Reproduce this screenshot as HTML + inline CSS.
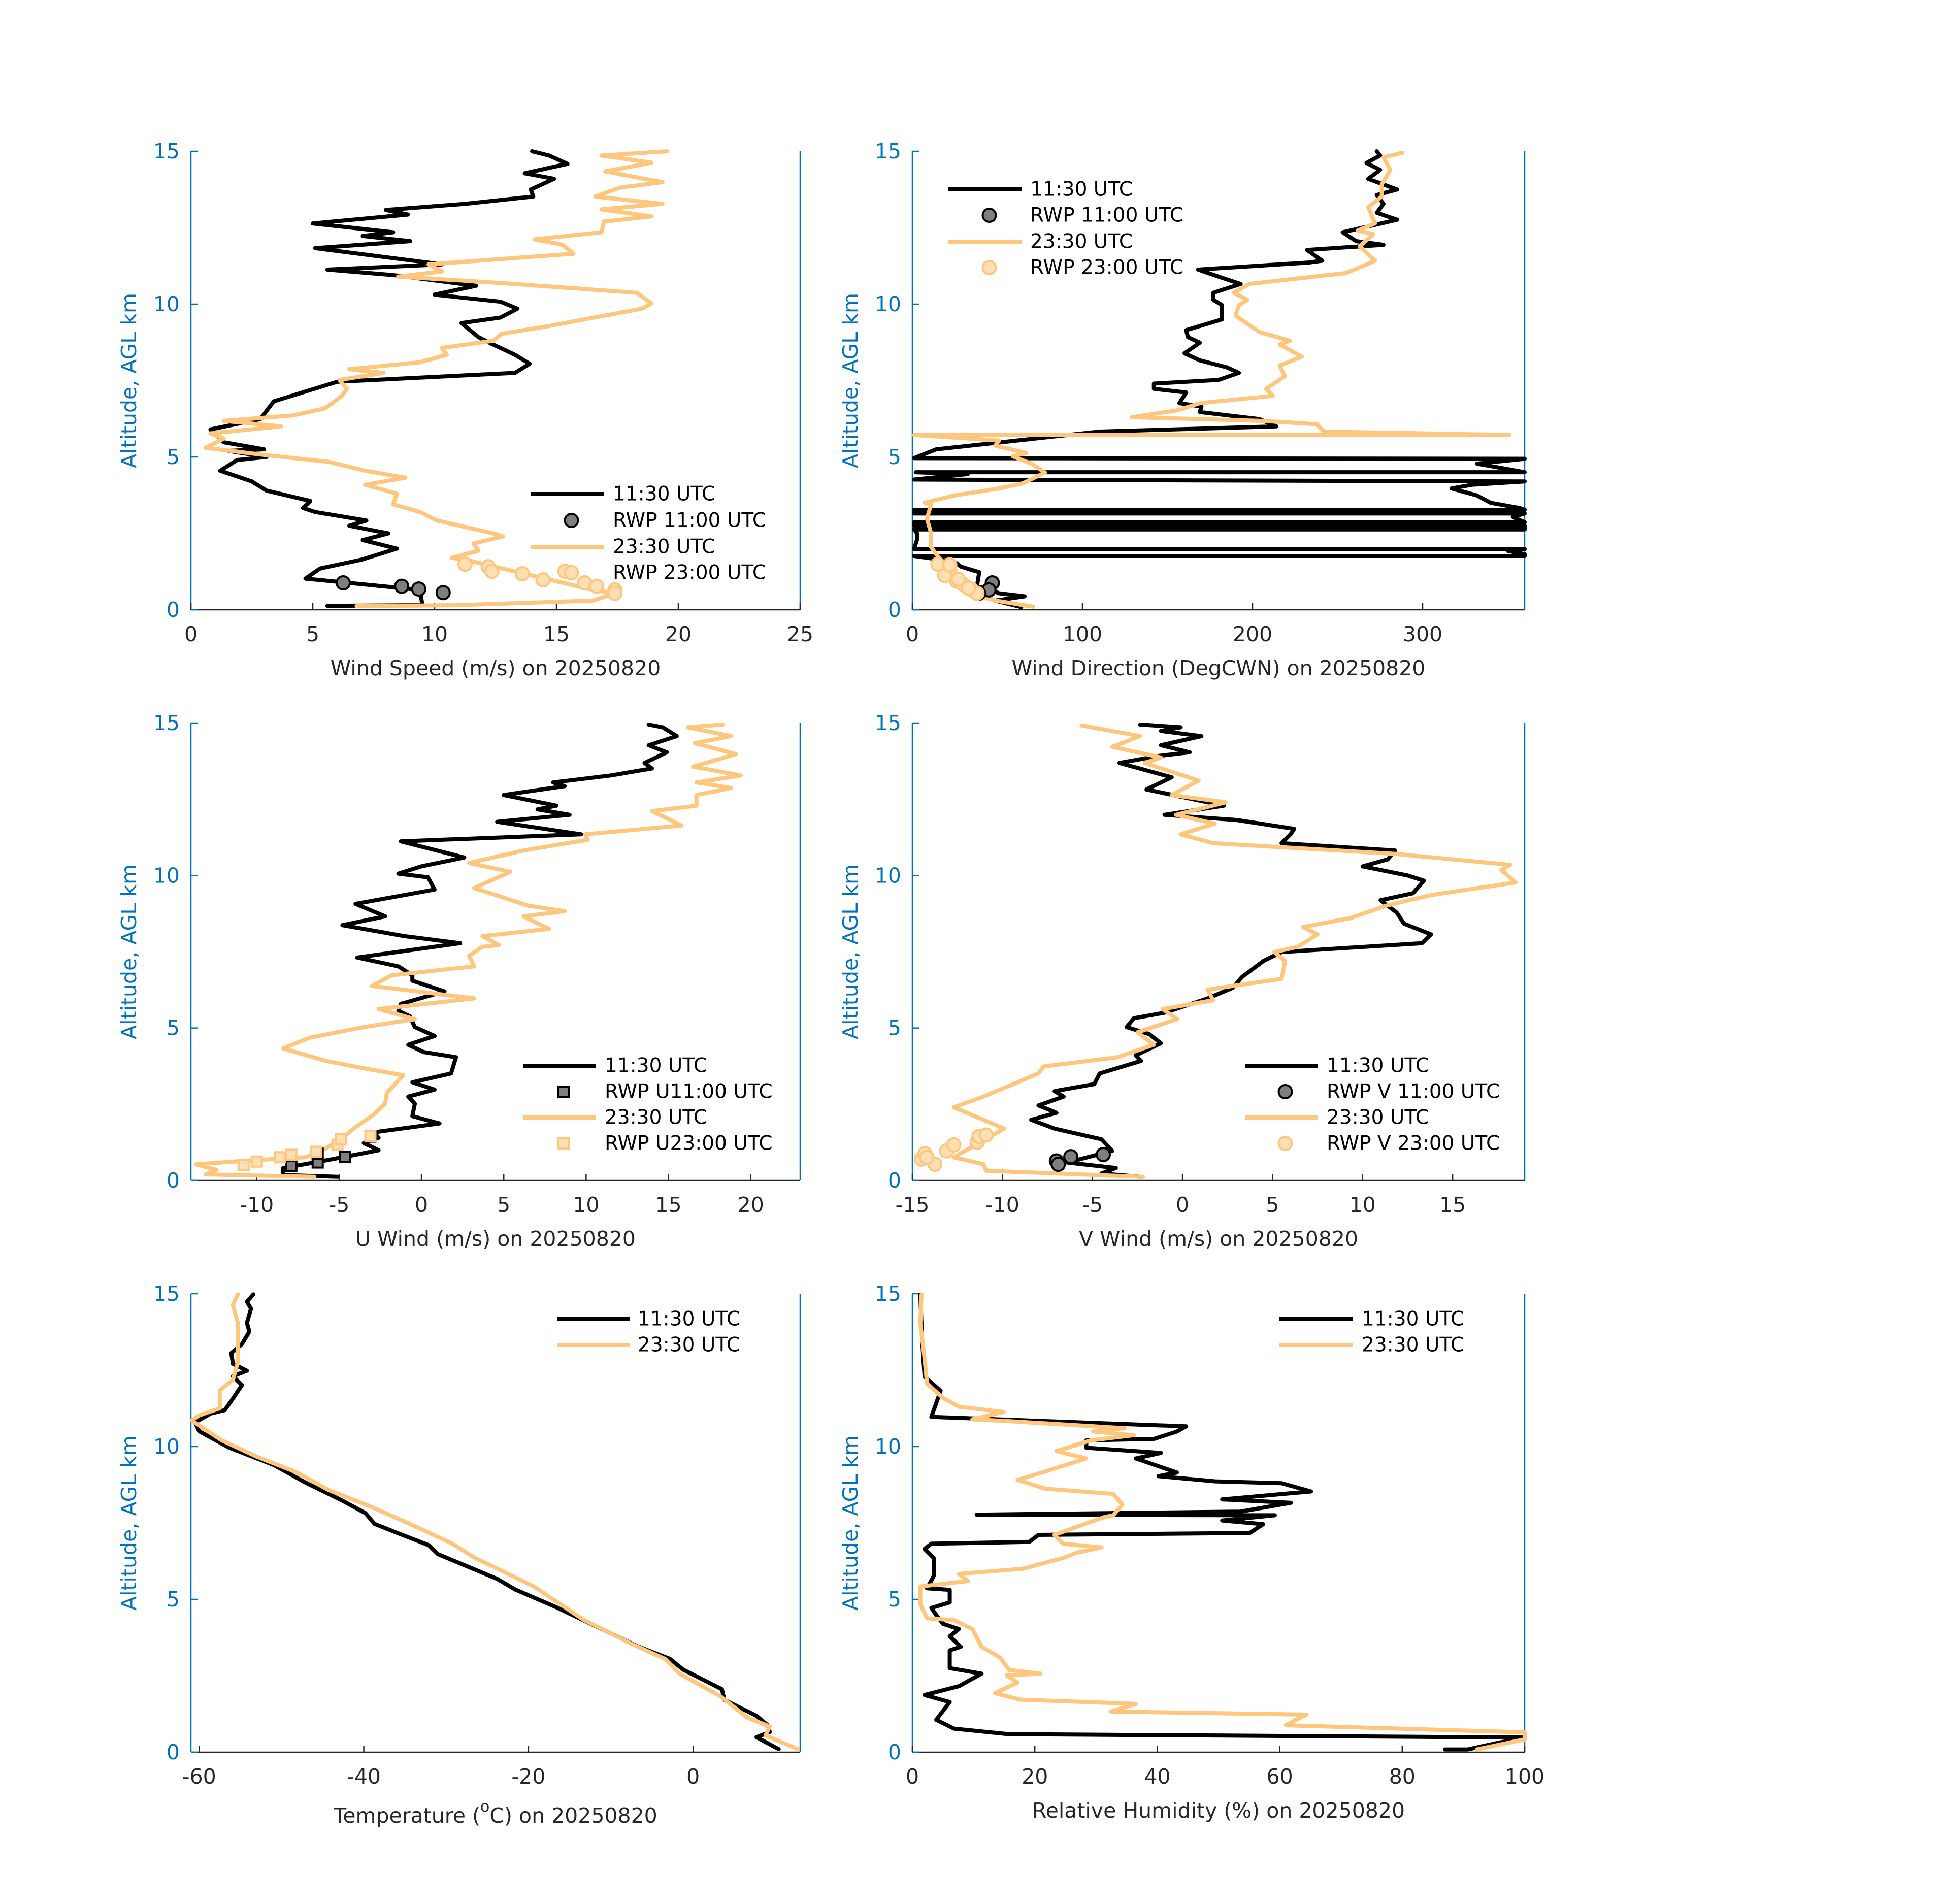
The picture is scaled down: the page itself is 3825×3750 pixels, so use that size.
<!DOCTYPE html>
<html><head><meta charset="utf-8"><style>
html,body{margin:0;padding:0;background:#fff}
svg{display:block;font-family:"DejaVu Sans","Liberation Sans",sans-serif}
</style></head><body>
<svg id="fig" xmlns="http://www.w3.org/2000/svg" width="3825" height="3750" viewBox="0 0 3825 3750">
<rect x="0" y="0" width="3825" height="3750" fill="#fff"/>
</svg>
<script>
// ---- Wind speed (m/s)
const wsAlt11=[0.13,0.15,0.65,1.02,1.35,1.64,2.0,2.28,2.5,2.75,2.92,3.2,3.33,3.56,3.9,4.2,4.55,4.9,5.0,5.2,5.25,5.48,5.9,6.24,6.82,7.46,7.75,8.05,8.34,8.68,8.92,9.38,9.56,9.85,10.08,10.31,10.6,10.95,11.13,11.3,11.83,12.06,12.23,12.35,12.64,12.93,13.08,13.28,13.52,13.75,14.1,14.28,14.59,14.86,15];
const wsVal11=[5.6,9.5,9.4,4.7,5.3,7.0,8.45,7.05,8.1,6.5,7.2,5.1,4.6,4.9,3.1,2.5,1.2,1.9,3.1,1.55,3.0,1.35,0.8,2.85,3.4,6.0,13.3,13.9,13.3,12.4,11.8,11.1,12.7,13.4,12.7,10.0,11.7,8.3,5.6,10.3,5.1,9.0,7.05,8.3,5.0,8.9,8.0,11.25,14.05,13.95,14.9,13.7,15.45,14.7,14.0];
const wsAlt23=[0.12,0.15,0.3,0.54,0.65,1.64,1.7,1.93,2.17,2.4,2.5,2.92,3.2,3.45,3.8,4.09,4.32,4.55,4.84,5.08,5.3,5.6,5.77,6.0,6.18,6.36,6.59,7.0,7.23,7.52,7.75,7.87,8.1,8.34,8.57,8.8,9.03,9.27,9.85,10.02,10.37,10.72,10.9,11.07,11.3,11.65,11.94,12.12,12.35,12.7,12.87,13.1,13.28,13.52,13.81,13.99,14.34,14.63,14.86,15];
const wsVal23=[6.8,10.9,16.5,17.4,16.5,11.25,10.7,11.8,11.6,12.8,12.4,10.1,9.4,8.3,8.45,7.15,8.8,7.15,5.65,2.85,0.6,1.35,0.8,3.7,1.35,4.2,5.5,6.2,6.4,6.1,7.9,6.5,9.4,10.5,10.3,12.4,12.75,14.6,18.5,18.9,18.3,12.2,8.5,10.3,9.75,15.7,15.25,14.1,16.85,16.95,18.9,16.85,19.35,16.6,17.6,19.35,17.0,18.9,16.85,19.55];
const rwpWsAlt11=[0.88,0.77,0.68,0.56];
const rwpWsVal11=[6.25,8.65,9.35,10.35];
const rwpWsAlt23=[1.49,1.41,1.26,1.18,0.98,1.26,0.88,0.77,0.65,0.54];
const rwpWsVal23=[11.25,12.2,12.35,13.6,14.45,15.35,16.15,16.65,17.4,17.4];
// ---- Wind direction (deg)
const wdAlt11=[0.09,0.3,0.44,0.54,0.65,0.77,1.23,1.41,1.58,1.76,1.76,1.82,1.93,1.99,1.99,2.28,2.51,2.63,2.63,2.75,2.75,2.86,2.86,3.04,3.15,3.15,3.27,3.27,3.33,3.5,3.74,3.97,4.09,4.2,4.26,4.44,4.5,4.5,4.55,4.78,4.94,4.96,5.25,5.54,5.83,6.0,6.24,6.47,6.65,6.76,7.11,7.23,7.4,7.52,7.75,7.93,8.16,8.39,8.74,8.92,9.15,9.5,9.97,10.14,10.37,10.66,10.9,11.13,11.36,11.42,11.77,11.94,12.06,12.35,12.76,12.99,13.28,13.57,13.75,14.1,14.39,14.62,14.86,15];
const wdVal11=[64,48.7,66,51,46,38,39.3,28.6,24.6,1,360,360,350,360,1,2.7,2.7,1,360,360,1,1,360,353,360,1,1,360,357,340,332,317,329,360,1,32.6,2,360,355,332,360,1,14,62,110,214,204,169,170,157,161,142,142,180,192,185,169,160,169,162,161,182,182,177,177,193,180,168,233,241,232,277,261,253,285,273,277,273,285,268,275,267,275,273];
const wdAlt23=[0.1,0.3,0.54,1.23,2.05,2.51,2.98,3.45,3.5,3.74,3.97,4.14,4.49,4.78,5.02,5.13,5.37,5.54,5.72,5.72,5.83,6.07,6.18,6.3,6.53,6.76,7.0,7.23,7.64,7.99,8.28,8.68,8.8,9.09,9.62,9.97,10.14,10.37,10.66,11.01,11.13,11.42,11.89,12.29,12.41,12.64,13.17,13.52,13.92,14.39,14.8,14.95];
const wdVal23=[71,49,33,22,11,11,8.6,11,7.2,24.6,51,65,78,70,59,67,48.7,51,1,351,242,238,206,129,156,169,212,208,219,216,229,216,222,204,190,192,197,189,198,254,260,272,263,271,262,272,268,276,276,281,277,288];
const rwpWdAlt11=[0.88,0.65,0.54];
const rwpWdVal11=[47,45,39];
const rwpWdAlt23=[1.49,1.29,1.12,0.94,0.83,0.65,0.54,0.71,1.47,1.0];
const rwpWdVal23=[15,22,19,26,30,35,38,33,22,27];
// ---- U wind
const uAlt11=[0.12,0.18,0.41,0.59,0.76,0.99,1.23,1.4,1.58,1.87,2.11,2.52,2.75,2.98,3.22,3.51,4.04,4.21,4.45,4.74,5.03,5.38,5.56,5.79,6.2,6.55,6.73,7.02,7.31,7.78,8.01,8.37,8.66,9.07,9.54,9.94,10.06,10.3,10.59,11.12,11.35,11.76,11.99,12.17,12.29,12.64,12.93,13.05,13.28,13.51,13.69,14.04,14.27,14.57,14.86,14.95];
const uVal11=[-5.1,-8.4,-8.4,-6.5,-4.8,-2.6,-3.5,-2.6,-2.9,1.1,-0.55,-0.4,-0.8,0.8,-0.55,1.8,2.1,0.14,-0.8,0.8,-0.4,-0.7,-1.4,-1.25,1.4,-0.55,-0.55,-1.4,-3.9,2.35,-1.0,-4.8,-2.2,-4.0,0.8,0.4,-1.4,0,2.6,-1.25,9.7,4.6,9.0,7.05,8.2,5.0,8.7,8.0,11.5,14.0,13.55,14.9,13.8,15.5,14.65,13.8];
const uAlt23=[0.12,0.2,0.35,0.53,0.67,0.76,1.05,1.4,1.75,2.16,2.52,2.87,3.22,3.45,3.69,3.92,4.33,4.68,5.03,5.29,5.62,5.97,6.38,6.73,7.02,7.37,7.66,7.72,8.01,8.25,8.66,8.83,9.01,9.59,10.12,10.41,10.82,11.17,11.35,11.64,12.11,12.29,12.64,12.87,13.05,13.28,13.57,13.98,14.34,14.57,14.86,14.95];
const uVal23=[-6.5,-13.1,-12.45,-13.7,-10.1,-7.05,-5.8,-4.8,-4.0,-2.9,-2.2,-2.1,-1.5,-1.1,-3.6,-5.8,-8.4,-6.8,-3.5,-0.4,-2.6,3.2,-3.0,-1.8,3.2,2.9,3.7,4.7,3.7,7.75,6.2,8.7,6.5,3.2,5.4,2.9,6.2,10.1,9.95,15.8,14.0,16.7,16.7,18.8,16.7,19.4,16.5,19.1,16.6,18.8,16.2,18.3];
const rwpUAlt11=[0.47,0.59,0.78,1.44,0.88];
const rwpUVal11=[-7.9,-6.3,-4.65,-3.1,-6.3];
const rwpUAlt23=[0.5,0.62,0.76,0.84,0.94,1.17,1.35,1.46];
const rwpUVal23=[-10.8,-10.0,-8.6,-7.9,-6.4,-5.1,-4.9,-3.1];
// ---- V wind
const vAlt11=[0.12,0.23,0.41,0.59,0.97,1.35,1.7,1.99,2.22,2.46,2.75,2.93,3.16,3.51,3.92,4.1,4.5,4.8,5.03,5.32,5.5,5.97,6.32,6.67,7.2,7.49,7.78,8.07,8.42,8.78,9.19,9.42,9.83,10.0,10.3,10.53,10.82,11.06,11.35,11.53,11.82,11.99,12.29,12.82,13.22,13.69,13.92,14.04,14.27,14.57,14.74,14.86,14.95];
const vVal11=[-2.3,-4.5,-3.7,-6.4,-3.9,-4.5,-7.1,-8.4,-7.0,-8.0,-6.6,-7.1,-4.9,-4.6,-2.3,-2.6,-1.2,-1.85,-3.1,-2.7,-1.0,1.4,2.8,3.3,4.5,5.5,13.3,13.8,12.3,11.9,11.0,12.8,13.4,12.5,10.0,11.4,11.8,5.5,6.0,6.2,3.0,-1.0,2.3,-2.0,-0.6,-3.5,-1.35,0.4,-1.2,1.05,-1.2,-0.1,-2.35];
const vAlt23=[0.12,0.32,0.53,0.76,1.7,1.99,2.4,2.75,3.16,3.51,3.74,4.04,4.45,4.86,5.29,5.62,5.91,6.26,6.61,7.2,7.49,7.66,8.07,8.31,8.6,9.01,9.36,9.77,10.18,10.35,10.71,11.06,11.35,11.7,11.99,12.4,12.64,13.11,13.69,13.87,14.22,14.57,14.92];
const vVal23=[-2.2,-10.9,-11.05,-12.7,-9.9,-11.05,-12.7,-11.05,-9.4,-8.0,-7.7,-3.6,-1.6,-2.5,-0.3,-1.1,1.7,1.4,5.5,5.7,5.1,6.4,7.5,6.7,9.3,11.3,13.8,18.5,17.7,18.2,11.8,1.7,-0.1,1.8,-0.35,2.4,-0.6,0.9,-2.1,-1.2,-3.9,-2.35,-5.6];
const rwpVAlt11=[0.64,0.53,0.78,0.85];
const rwpVVal11=[-7.0,-6.9,-6.2,-4.4];
const rwpVAlt23=[0.7,0.88,0.53,0.97,1.17,1.25,1.44,1.49,0.76];
const rwpVVal23=[-14.5,-14.3,-13.75,-13.1,-12.7,-11.4,-11.3,-10.9,-14.2];
// ---- Temperature
const tAlt11=[0.1,0.49,0.66,0.87,1.19,1.71,2.06,2.7,3.05,3.46,4.39,4.74,5.32,5.67,6.48,6.77,7.18,7.47,7.82,8.23,8.81,9.39,9.97,10.5,10.79,11.08,11.19,11.49,12.01,12.3,12.48,12.71,13.06,13.35,13.76,14.05,14.51,14.74,14.98];
const tVal11=[10.4,7.7,9.3,9.1,7.7,3.8,3.5,-1.2,-2.8,-6.7,-13.9,-16.6,-21.6,-23.8,-31.0,-32.1,-36.0,-38.7,-39.8,-42.6,-47.0,-50.9,-56.4,-60.0,-60.5,-58.6,-56.9,-56.1,-54.8,-55.9,-54.2,-55.9,-56.1,-54.8,-53.9,-54.2,-53.7,-54.2,-53.4];
const tAlt23=[0.1,0.55,0.84,1.13,1.83,2.58,3.05,3.51,4.33,5.43,6.37,6.83,7.53,8.05,8.58,9.16,9.68,10.21,10.85,11.02,11.25,11.84,12.18,12.76,13.46,14.05,14.63,14.98];
const tVal23=[12.7,8.8,9.3,6.6,3.3,-1.7,-3.4,-7.2,-13.3,-19.4,-26.6,-29.3,-34.9,-39.3,-44.3,-48.2,-53.1,-57.3,-60.9,-60.0,-57.5,-57.5,-55.9,-55.3,-55.3,-55.3,-55.9,-55.3];
// ---- Relative humidity
const rhAlt11=[0.09,0.09,0.3,0.48,0.59,0.77,1.06,1.64,1.87,2.16,2.57,2.75,3.33,3.45,3.79,4.03,4.2,4.49,4.72,4.9,5.31,5.36,5.77,6.35,6.65,6.82,6.88,7.11,7.17,7.46,7.58,7.75,7.77,7.87,8.16,8.27,8.53,8.8,8.86,9.03,9.15,9.61,9.79,9.96,10.2,10.25,10.49,10.66,10.97,11.42,11.82,12.29,13.45,14.97];
const rhVal11=[87,90.7,95.5,100,15.7,6.8,3.9,6.1,2.0,7.6,11.3,6.1,6.1,7.9,6.1,7.6,5.0,3.9,3.1,6.1,6.1,2.4,3.5,3.5,2.0,3.1,19.1,20.6,55.1,57.3,50.6,59.2,10.5,53.6,61.8,50.6,65.1,60.3,49.5,40.2,43.2,36.5,40.6,28.4,28.4,39.5,43.2,44.7,3.1,3.9,4.6,2.0,1.6,1.3];
const rhAlt23=[0.09,0.42,0.65,0.88,1.12,1.23,1.33,1.58,1.72,1.93,2.28,2.51,2.57,2.69,3.1,3.45,4.03,4.32,4.38,4.84,5.42,5.6,5.83,6.0,6.35,6.53,6.7,6.82,7.11,7.69,7.75,8.1,8.45,8.62,8.91,9.09,9.61,9.85,10.2,10.37,10.49,10.6,10.83,10.89,11.13,11.3,11.59,12.06,12.87,14.04,14.97];
const rhVal23=[92.2,100,100,61,63.2,64.4,32.4,36.5,17.6,13.5,17.2,15.4,20.9,15.8,14.3,11.3,9.8,6.8,2.4,1.3,1.3,9.1,7.6,18.0,24.6,26.9,30.9,24.6,23.2,31.3,32.8,34.3,32.8,21.7,17.2,20.2,28.4,23.5,29.1,36.2,29.5,34.7,15.7,9.8,14.9,7.6,5.0,2.4,2.0,1.3,1.5];
// ---- tick labels
const wsTicks=[0,5,10,15,20,25];
const wdTicks=[0,100,200,300];
const uTicks=[-10,-5,0,5,10,15,20];
const vTicks=[-15,-10,-5,0,5,10,15];
const tTicks=[-60,-40,-20,0];
const rhTicks=[0,20,40,60,80,100];
const altTicks=[0,5,10,15];

const NS='http://www.w3.org/2000/svg';
const svg=document.getElementById('fig');
const BLACK='#000', ORANGE='#FFC67D', BLUE='#0072BD', GRAY='#262626';
function mk(tag,attrs,parent){const e=document.createElementNS(NS,tag);for(const k in attrs)e.setAttribute(k,attrs[k]);(parent||svg).appendChild(e);return e;}

function makeAxes(cfg){
  const g=mk('g',{});
  
  
  const sx=v=>cfg.left+(v-cfg.xmin)/(cfg.xmax-cfg.xmin)*(cfg.right-cfg.left);
  const sy=a=>cfg.bottom-a/15*(cfg.bottom-cfg.top);
  cfg.sx=sx;cfg.sy=sy;cfg.g=g;
  const bx=mk('line',{x1:cfg.left,y1:cfg.bottom,x2:cfg.right,y2:cfg.bottom,stroke:GRAY,'stroke-width':2.5},g);
  
  
  const ly=mk('line',{x1:cfg.left,y1:cfg.top,x2:cfg.left,y2:cfg.bottom,stroke:BLUE,'stroke-width':2.5},g);
  
  
  const ry=mk('line',{x1:cfg.right,y1:cfg.top,x2:cfg.right,y2:cfg.bottom,stroke:BLUE,'stroke-width':2.5},g);
  
  
  cfg.xticks.forEach(v=>{
    const x=sx(v);
    mk('line',{x1:x,y1:cfg.bottom,x2:x,y2:cfg.bottom-13,stroke:GRAY,'stroke-width':2.5},g);
    const t=mk('text',{x:x,y:cfg.bottom+48,'font-size':41,fill:GRAY,'text-anchor':'middle','dominant-baseline':'central'},g);
    t.textContent=String(v);
    
    
  });
  altTicks.forEach(a=>{
    const y=sy(a);
    mk('line',{x1:cfg.left,y1:y,x2:cfg.left+13,y2:y,stroke:BLUE,'stroke-width':2.5},g);
    const t=mk('text',{x:cfg.left-22,y:y,'font-size':41,fill:BLUE,'text-anchor':'end','dominant-baseline':'central'},g);
    t.textContent=a;
    
    
  });
  const yl=mk('text',{x:0,y:0,'font-size':41,fill:BLUE,'text-anchor':'middle','dominant-baseline':'central',transform:`translate(${cfg.left-122},${(cfg.top+cfg.bottom)/2}) rotate(-90)`},g);
  yl.textContent='Altitude, AGL km';
  
  
  const xl=mk('text',{x:(cfg.left+cfg.right)/2,y:cfg.bottom+(cfg.sup?125:115),'font-size':41,fill:GRAY,'text-anchor':'middle','dominant-baseline':'central'},g);
  if(cfg.sup){
    xl.appendChild(document.createTextNode('Temperature ('));
    const s=mk('tspan',{'font-size':30,'baseline-shift':'super'},xl);s.textContent='o';
    const r=mk('tspan',{},xl);r.textContent='C) on 20250820';
  } else xl.textContent=cfg.xlabel;
  
  
  return cfg;
}
function drawLine(cfg,alts,vals,color,name){
  let d='';
  for(let i=0;i<alts.length;i++){d+=(i?'L':'M')+cfg.sx(vals[i]).toFixed(1)+' '+cfg.sy(alts[i]).toFixed(1);}
  const p=mk('path',{d:d,fill:'none',stroke:color,'stroke-width':8,'stroke-linejoin':'round','stroke-linecap':'round'},cfg.g);
  
  
}
function drawMarkers(cfg,alts,vals,kind,shape,name){
  const fill=kind==='k'?'#7f7f7f':'#FFE0B5', st=kind==='k'?'#000':ORANGE;
  for(let i=0;i<alts.length;i++){
    const x=cfg.sx(vals[i]),y=cfg.sy(alts[i]);
    let m;
    if(shape==='s') m=mk('rect',{x:x-10,y:y-10,width:20,height:20,fill:fill,stroke:st,'stroke-width':4},cfg.g);
    else m=mk('circle',{cx:x,cy:y,r:13,fill:fill,stroke:st,'stroke-width':4},cfg.g);
    
    
  }
}
function legend(cfg,lx1,lx2,tx,rows,entries){
  const g=mk('g',{},cfg.g);
  
  
  entries.forEach((e,i)=>{
    const y=rows[i];
    if(e.type==='line'){mk('line',{x1:lx1,y1:y,x2:lx2,y2:y,stroke:e.color,'stroke-width':8},g);}
    else{
      const mx=(lx1+lx2)/2+8;
      const fill=e.kind==='k'?'#7f7f7f':'#FFE0B5', st=e.kind==='k'?'#000':ORANGE;
      if(e.type==='s') mk('rect',{x:mx-10,y:y-10,width:20,height:20,fill:fill,stroke:st,'stroke-width':4},g);
      else mk('circle',{cx:mx,cy:y,r:13,fill:fill,stroke:st,'stroke-width':4},g);
    }
    const t=mk('text',{x:tx,y:y,'font-size':39,fill:'#000','dominant-baseline':'central'},g);
    t.textContent=e.label;
    
    
  });
}
const L1=376,R1=1576,L2=1797,R2=3003;
const T1=298,B1=1201,T2=1424,B2=2325,T3=2548,B3=3451;

const p1=makeAxes({name:'wind-speed-panel',left:L1,right:R1,top:T1,bottom:B1,xmin:0,xmax:25,xticks:wsTicks,xlabel:'Wind Speed (m/s) on 20250820'});
drawLine(p1,wsAlt11,wsVal11,BLACK,'wind-speed-1130');
drawLine(p1,wsAlt23,wsVal23,ORANGE,'wind-speed-2330');
drawMarkers(p1,rwpWsAlt11,rwpWsVal11,'k','c','rwp-speed-1100');
drawMarkers(p1,rwpWsAlt23,rwpWsVal23,'o','c','rwp-speed-2300');
legend(p1,1046,1189,1207,[973,1025,1077,1128],[{type:'line',color:BLACK,label:'11:30 UTC'},{type:'c',kind:'k',label:'RWP 11:00 UTC'},{type:'line',color:ORANGE,label:'23:30 UTC'},{type:'c',kind:'o',label:'RWP 23:00 UTC'}]);

const p2=makeAxes({name:'wind-direction-panel',left:L2,right:R2,top:T1,bottom:B1,xmin:0,xmax:360,xticks:wdTicks,xlabel:'Wind Direction (DegCWN) on 20250820'});
drawLine(p2,wdAlt11,wdVal11,BLACK,'wind-direction-1130');
drawLine(p2,wdAlt23,wdVal23,ORANGE,'wind-direction-2330');
drawMarkers(p2,rwpWdAlt11,rwpWdVal11,'k','c','rwp-direction-1100');
drawMarkers(p2,rwpWdAlt23,rwpWdVal23,'o','c','rwp-direction-2300');
legend(p2,1868,2013,2029,[373,424,476,527],[{type:'line',color:BLACK,label:'11:30 UTC'},{type:'c',kind:'k',label:'RWP 11:00 UTC'},{type:'line',color:ORANGE,label:'23:30 UTC'},{type:'c',kind:'o',label:'RWP 23:00 UTC'}]);

const p3=makeAxes({name:'u-wind-panel',left:L1,right:R1,top:T2,bottom:B2,xmin:-14,xmax:23,xticks:uTicks,xlabel:'U Wind (m/s) on 20250820'});
drawLine(p3,uAlt11,uVal11,BLACK,'u-wind-1130');
drawLine(p3,uAlt23,uVal23,ORANGE,'u-wind-2330');
drawMarkers(p3,rwpUAlt11,rwpUVal11,'k','s','rwp-u-1100');
drawMarkers(p3,rwpUAlt23,rwpUVal23,'o','s','rwp-u-2300');
legend(p3,1030,1174,1191,[2099,2150,2201,2252],[{type:'line',color:BLACK,label:'11:30 UTC'},{type:'s',kind:'k',label:'RWP U11:00 UTC'},{type:'line',color:ORANGE,label:'23:30 UTC'},{type:'s',kind:'o',label:'RWP U23:00 UTC'}]);

const p4=makeAxes({name:'v-wind-panel',left:L2,right:R2,top:T2,bottom:B2,xmin:-15,xmax:19,xticks:vTicks,xlabel:'V Wind (m/s) on 20250820'});
drawLine(p4,vAlt11,vVal11,BLACK,'v-wind-1130');
drawLine(p4,vAlt23,vVal23,ORANGE,'v-wind-2330');
drawMarkers(p4,rwpVAlt11,rwpVVal11,'k','c','rwp-v-1100');
drawMarkers(p4,rwpVAlt23,rwpVVal23,'o','c','rwp-v-2300');
legend(p4,2452,2595,2613,[2099,2150,2201,2252],[{type:'line',color:BLACK,label:'11:30 UTC'},{type:'c',kind:'k',label:'RWP V 11:00 UTC'},{type:'line',color:ORANGE,label:'23:30 UTC'},{type:'c',kind:'o',label:'RWP V 23:00 UTC'}]);

const p5=makeAxes({name:'temperature-panel',left:L1,right:R1,top:T3,bottom:B3,xmin:-61,xmax:13,xticks:tTicks,sup:true});
drawLine(p5,tAlt11,tVal11,BLACK,'temperature-1130');
drawLine(p5,tAlt23,tVal23,ORANGE,'temperature-2330');
legend(p5,1098,1241,1256,[2598,2649],[{type:'line',color:BLACK,label:'11:30 UTC'},{type:'line',color:ORANGE,label:'23:30 UTC'}]);

const p6=makeAxes({name:'humidity-panel',left:L2,right:R2,top:T3,bottom:B3,xmin:0,xmax:100,xticks:rhTicks,xlabel:'Relative Humidity (%) on 20250820'});
drawLine(p6,rhAlt11,rhVal11,BLACK,'humidity-1130');
drawLine(p6,rhAlt23,rhVal23,ORANGE,'humidity-2330');
legend(p6,2519,2665,2682,[2598,2649],[{type:'line',color:BLACK,label:'11:30 UTC'},{type:'line',color:ORANGE,label:'23:30 UTC'}]);
</script>
</body></html>
